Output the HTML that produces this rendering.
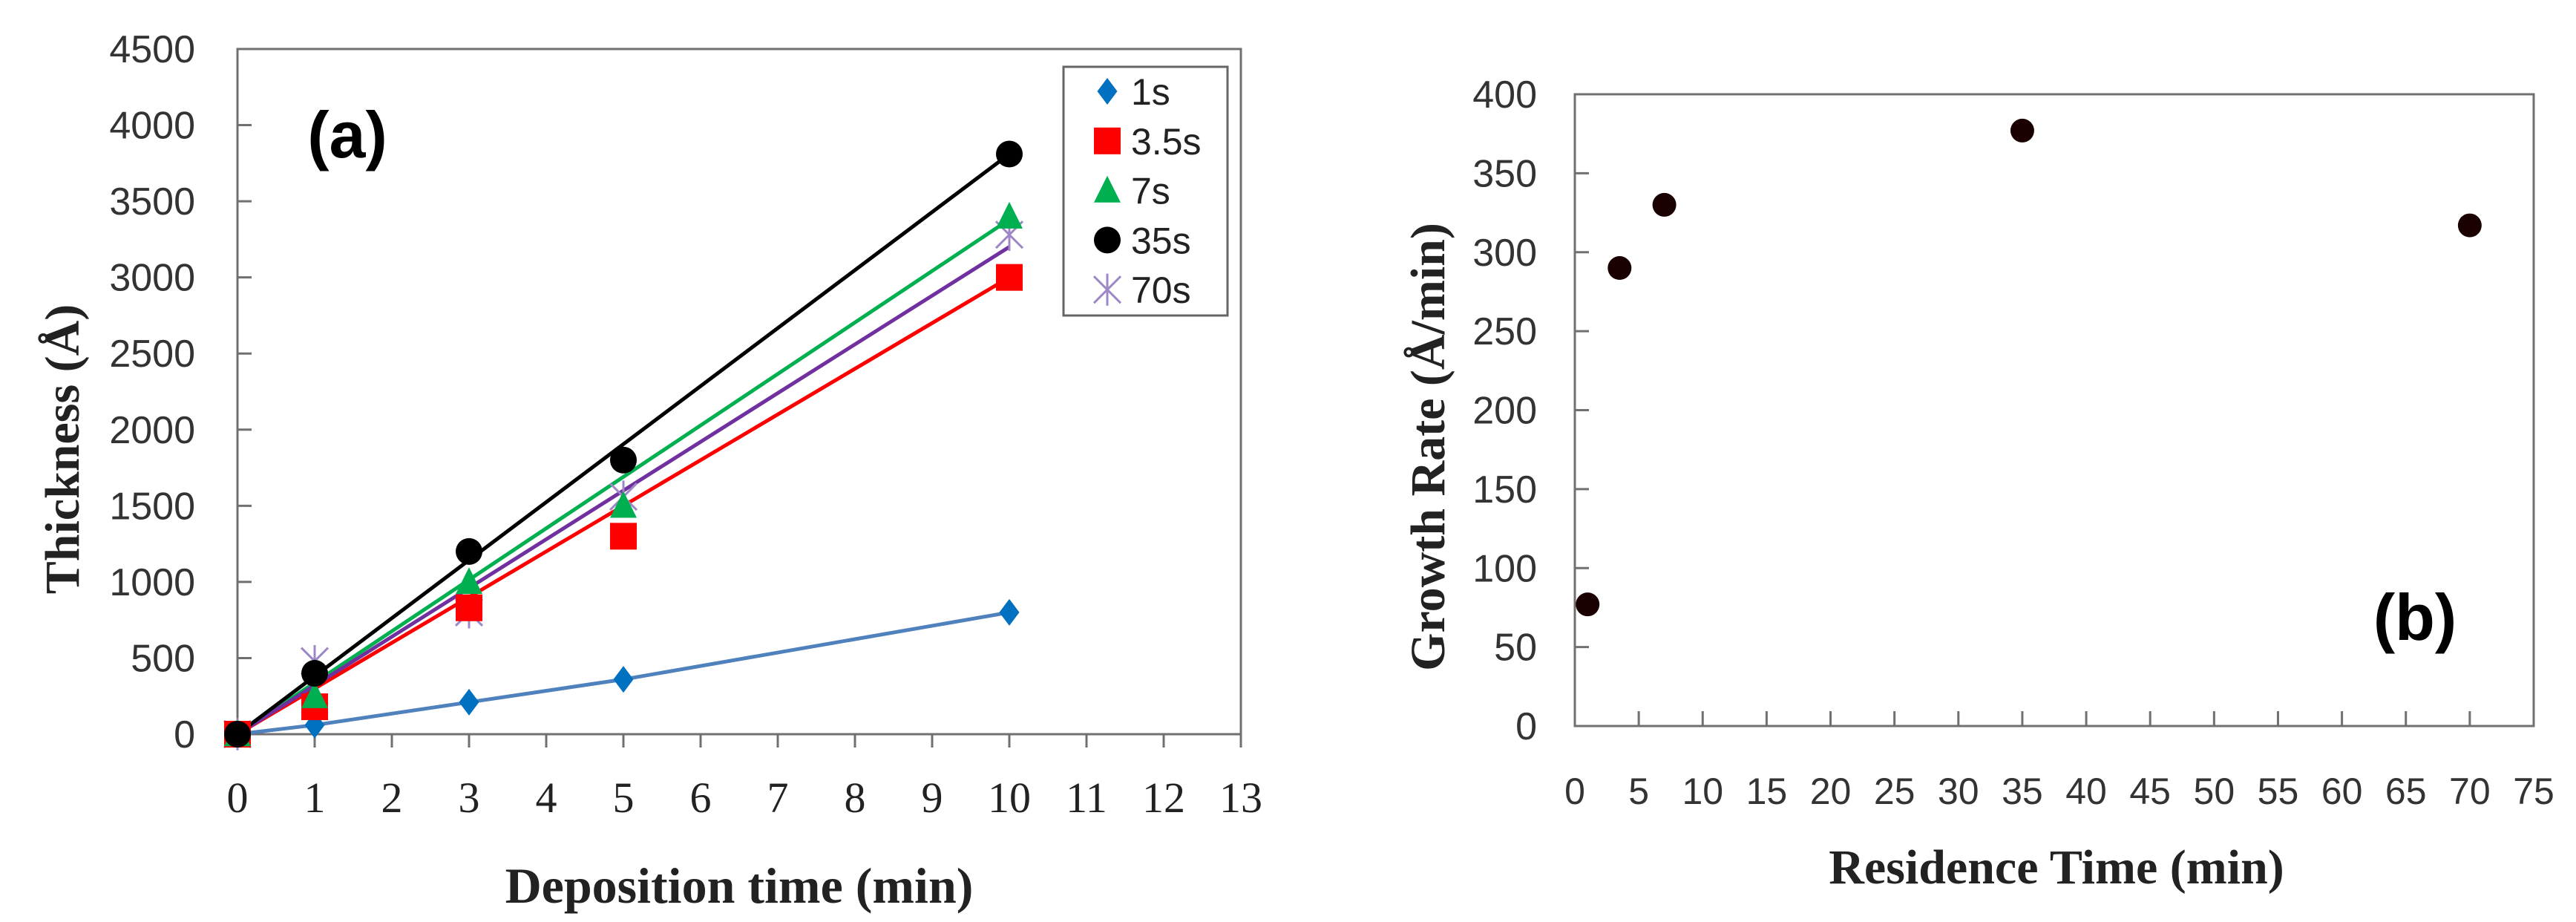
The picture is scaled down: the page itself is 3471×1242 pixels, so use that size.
<!DOCTYPE html>
<html><head><meta charset="utf-8"><style>
html,body{margin:0;padding:0;background:#fff;}
svg{display:block;}
.ser{font-family:"Liberation Serif",serif;}
.sans{font-family:"Liberation Sans",sans-serif;}
</style></head><body>
<svg id="fig" width="3471" height="1242" viewBox="0 0 3471 1242" xmlns="http://www.w3.org/2000/svg">
<rect width="3471" height="1242" fill="#fff"/>
<g id="chartA"></g>
<g id="chartB"></g>
</svg>
<script>
// ---- Chart (a) data ----
const aTimes = [0, 1, 3, 5, 10];
const aSeriesNames = ["1s", "3.5s", "7s", "35s", "70s"];
const a1s = [0, 60, 210, 360, 800];
const a35 = [0, 180, 830, 1300, 3000];
const a7 = [0, 250, 1000, 1500, 3400];
const a35s = [0, 400, 1200, 1800, 3810];
const a70 = [0, 480, 800, 1560, 3280];
const aTrendEnd = [null, 3000, 3380, 3810, 3200]; // fitted value at x = 10
const aYTicks = [0, 500, 1000, 1500, 2000, 2500, 3000, 3500, 4000, 4500];
const aXTicks = [0,1,2,3,4,5,6,7,8,9,10,11,12,13];
// ---- Chart (b) data ----
const bX = [1, 3.5, 7, 35, 70];
const bY = [77, 290, 330, 377, 317];
const bYTicks = [0, 50, 100, 150, 200, 250, 300, 350, 400];
const bXTicks = [0,5,10,15,20,25,30,35,40,45,50,55,60,65,70,75];

const NS = "http://www.w3.org/2000/svg";
function mk(parent, tag, attrs, text){
  const e = document.createElementNS(NS, tag);
  for (const k in attrs) e.setAttribute(k, attrs[k]);
  if (text !== undefined) e.textContent = text;
  parent.appendChild(e);
  return e;
}

// ===== Chart A =====
const A = document.getElementById('chartA');
const aL = 320, aR = 1672, aT = 66, aB = 989;
const ax = v => aL + (v - 0) / 13 * (aR - aL);
const ay = v => aB - v / 4500 * (aB - aT);

let f = mk(A, 'rect', {x:aL, y:aT, width:aR-aL, height:aB-aT, fill:'none', stroke:'#707070', 'stroke-width':3});



aYTicks.forEach(v => {
  const t = mk(A, 'line', {x1:aL, x2:aL+19, y1:ay(v), y2:ay(v), stroke:'#707070', 'stroke-width':3});
  
  
  const l = mk(A, 'text', {x:263, y:ay(v)+18, 'text-anchor':'end', 'font-size':52, fill:'#333', class:'sans'}, String(v));
  
  
});
aXTicks.forEach(v => {
  const t = mk(A, 'line', {x1:ax(v), x2:ax(v), y1:aB, y2:aB+18, stroke:'#707070', 'stroke-width':3});
  
  
  const l = mk(A, 'text', {x:ax(v), y:1094, 'text-anchor':'middle', 'font-size':58, fill:'#222', class:'ser'}, String(v));
  
  
});
let tt = mk(A, 'text', {x:996, y:1216, 'text-anchor':'middle', 'font-size':68, 'font-weight':'bold', fill:'#222', class:'ser'}, 'Deposition time (min)');


tt = mk(A, 'text', {x:0, y:0, 'text-anchor':'middle', 'font-size':66, 'font-weight':'bold', fill:'#222', class:'ser', transform:'translate(106,605) rotate(-90)'}, 'Thickness (Å)');


tt = mk(A, 'text', {x:468, y:212, 'text-anchor':'middle', 'font-size':88, 'font-weight':'bold', fill:'#000', class:'sans'}, '(a)');



const colors = ['#0070c0', '#ff0000', '#00b050', '#000000', '#9e87c6'];
const lineColors = ['#4f81bd', '#ff0000', '#00b050', '#000000', '#7030a0'];
const allSeries = [a1s, a35, a7, a35s, a70];

function marker(g, i, cx, cy, s){
  let e;
  if (i === 0) e = mk(g, 'polygon', {points:`${cx},${cy-s} ${cx+s*0.75},${cy} ${cx},${cy+s} ${cx-s*0.75},${cy}`, fill:colors[0]});
  else if (i === 1) e = mk(g, 'rect', {x:cx-s, y:cy-s, width:2*s, height:2*s, fill:colors[1]});
  else if (i === 2) e = mk(g, 'polygon', {points:`${cx},${cy-s*1.1} ${cx+s},${cy+s*0.9} ${cx-s},${cy+s*0.9}`, fill:colors[2]});
  else if (i === 3) e = mk(g, 'circle', {cx:cx, cy:cy, r:s, fill:colors[3]});
  else {
    e = mk(g, 'path', {d:`M${cx-s},${cy-s}L${cx+s},${cy+s}M${cx-s},${cy+s}L${cx+s},${cy-s}M${cx},${cy-s*1.2}L${cx},${cy+s*1.2}`, stroke:colors[4], 'stroke-width':3, fill:'none'});
  }
  return e;
}

// lines
const g1 = mk(A, 'polyline', {points:aTimes.map((t,k)=>ax(t)+','+ay(a1s[k])).join(' '), fill:'none', stroke:lineColors[0], 'stroke-width':5});


[1,2,4,3].forEach(i => {
  const ln = mk(A, 'line', {x1:ax(0), y1:ay(0), x2:ax(10), y2:ay(aTrendEnd[i]), stroke:lineColors[i], 'stroke-width':5});
  
  
});
// markers
[0,4,1,2,3].forEach(i => {
  allSeries[i].forEach((v,k) => {
    const m = marker(A, i, ax(aTimes[k]), ay(v), i===0?18:18);
    
    
  });
});

// legend
const lg = mk(A, 'g', {});


let lb = mk(lg, 'rect', {x:1433, y:90, width:221, height:335, fill:'#fff', stroke:'#666', 'stroke-width':3});


aSeriesNames.forEach((n,i) => {
  const cy = 123 + i*66.8;
  const m = marker(lg, i, 1492, cy, 18);
  
  
  const t = mk(lg, 'text', {x:1524, y:cy+18, 'font-size':50, fill:'#222', class:'sans'}, n);
  
  
});

// ===== Chart B =====
const B = document.getElementById('chartB');
const bL = 2122, bR = 3414, bT = 127, bB = 978;
const bx = v => bL + v / 75 * (bR - bL);
const by = v => bB - v / 400 * (bB - bT);
f = mk(B, 'rect', {x:bL, y:bT, width:bR-bL, height:bB-bT, fill:'none', stroke:'#707070', 'stroke-width':3});


bYTicks.forEach(v => {
  const t = mk(B, 'line', {x1:bL, x2:bL+19, y1:by(v), y2:by(v), stroke:'#707070', 'stroke-width':3});
  
  
  const l = mk(B, 'text', {x:2071, y:by(v)+18, 'text-anchor':'end', 'font-size':52, fill:'#333', class:'sans'}, String(v));
  
  
});
bXTicks.forEach(v => {
  const t = mk(B, 'line', {x1:bx(v), x2:bx(v), y1:bB, y2:bB-20, stroke:'#707070', 'stroke-width':3});
  
  
  const l = mk(B, 'text', {x:bx(v), y:1083, 'text-anchor':'middle', 'font-size':50, fill:'#333', class:'sans'}, String(v));
  
  
});
tt = mk(B, 'text', {x:2771, y:1190, 'text-anchor':'middle', 'font-size':66, 'font-weight':'bold', fill:'#222', class:'ser'}, 'Residence Time (min)');


tt = mk(B, 'text', {x:0, y:0, 'text-anchor':'middle', 'font-size':66, 'font-weight':'bold', fill:'#222', class:'ser', transform:'translate(1946,602) rotate(-90)'}, 'Growth Rate (Å/min)');


tt = mk(B, 'text', {x:3254, y:862, 'text-anchor':'middle', 'font-size':88, 'font-weight':'bold', fill:'#000', class:'sans'}, '(b)');


bX.forEach((x,k) => {
  const c = mk(B, 'circle', {cx:bx(x), cy:by(bY[k]), r:16, fill:'#1a0000'});
  
  
});
</script>
</body></html>
